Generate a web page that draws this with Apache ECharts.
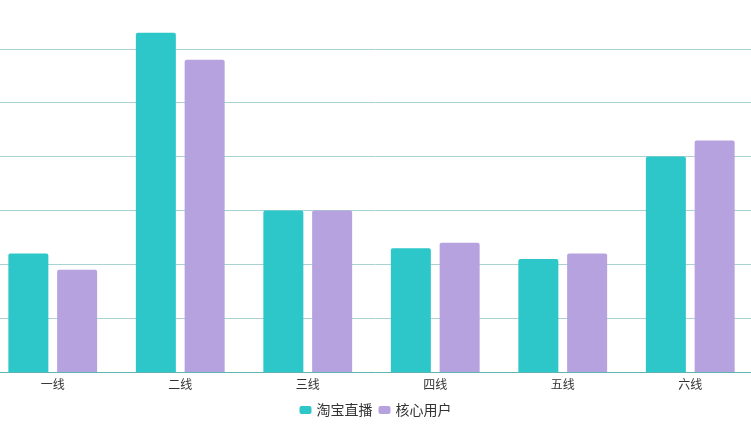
<!DOCTYPE html>
<html><head><meta charset="utf-8">
<script src="https://cdn.jsdelivr.net/npm/echarts@6/dist/echarts.min.js"></script>
<style>html,body{margin:0;padding:0;background:#fff}#c{width:751px;height:427px}</style>
</head><body><div id="c"></div>
<script>
const categories = ['一线','二线','三线','四线','五线','六线'];
const seriesNames = ['淘宝直播','核心用户'];
const taobaoLive = [22, 63, 30, 23, 21, 40];
const coreUsers = [19, 58, 30, 24, 22, 43];

const chart = echarts.init(document.getElementById('c'));
chart.setOption({
  animation: false,
  color: ['#2ec7c9', '#b6a2de'],
  legend: {
    data: seriesNames,
    bottom: 5,
    left: 'center',
    icon: 'roundRect',
    itemWidth: 12,
    itemHeight: 8,
    itemGap: 6,
    textStyle: {fontSize: 14, color: '#333', fontFamily: 'Noto Sans CJK SC'}
  },
  grid: {left: -11, right: -3, top: -5, bottom: 55, outerBoundsMode: 'none', containLabel: false},
  xAxis: {
    type: 'category',
    data: categories,
    axisLine: {lineStyle: {color: '#5fb3b5'}},
    axisTick: {lineStyle: {color: '#5fb3b5'}, length: 4},
    axisLabel: {fontSize: 12, color: '#333', margin: 6, fontFamily: 'Noto Sans CJK SC'}
  },
  yAxis: {
    type: 'value',
    min: 0, max: 70, interval: 10,
    axisLabel: {show: false},
    axisLine: {show: false},
    axisTick: {show: false},
    splitLine: {lineStyle: {color: '#a9d2d3'}}
  },
  series: [
    {name: seriesNames[0], type: 'bar', data: taobaoLive, barWidth: 40, barGap: '22%', itemStyle: {borderRadius: [2,2,0,0]}},
    {name: seriesNames[1], type: 'bar', data: coreUsers, barWidth: 40, barGap: '22%', itemStyle: {borderRadius: [2,2,0,0]}}
  ]
});
</script></body></html>
